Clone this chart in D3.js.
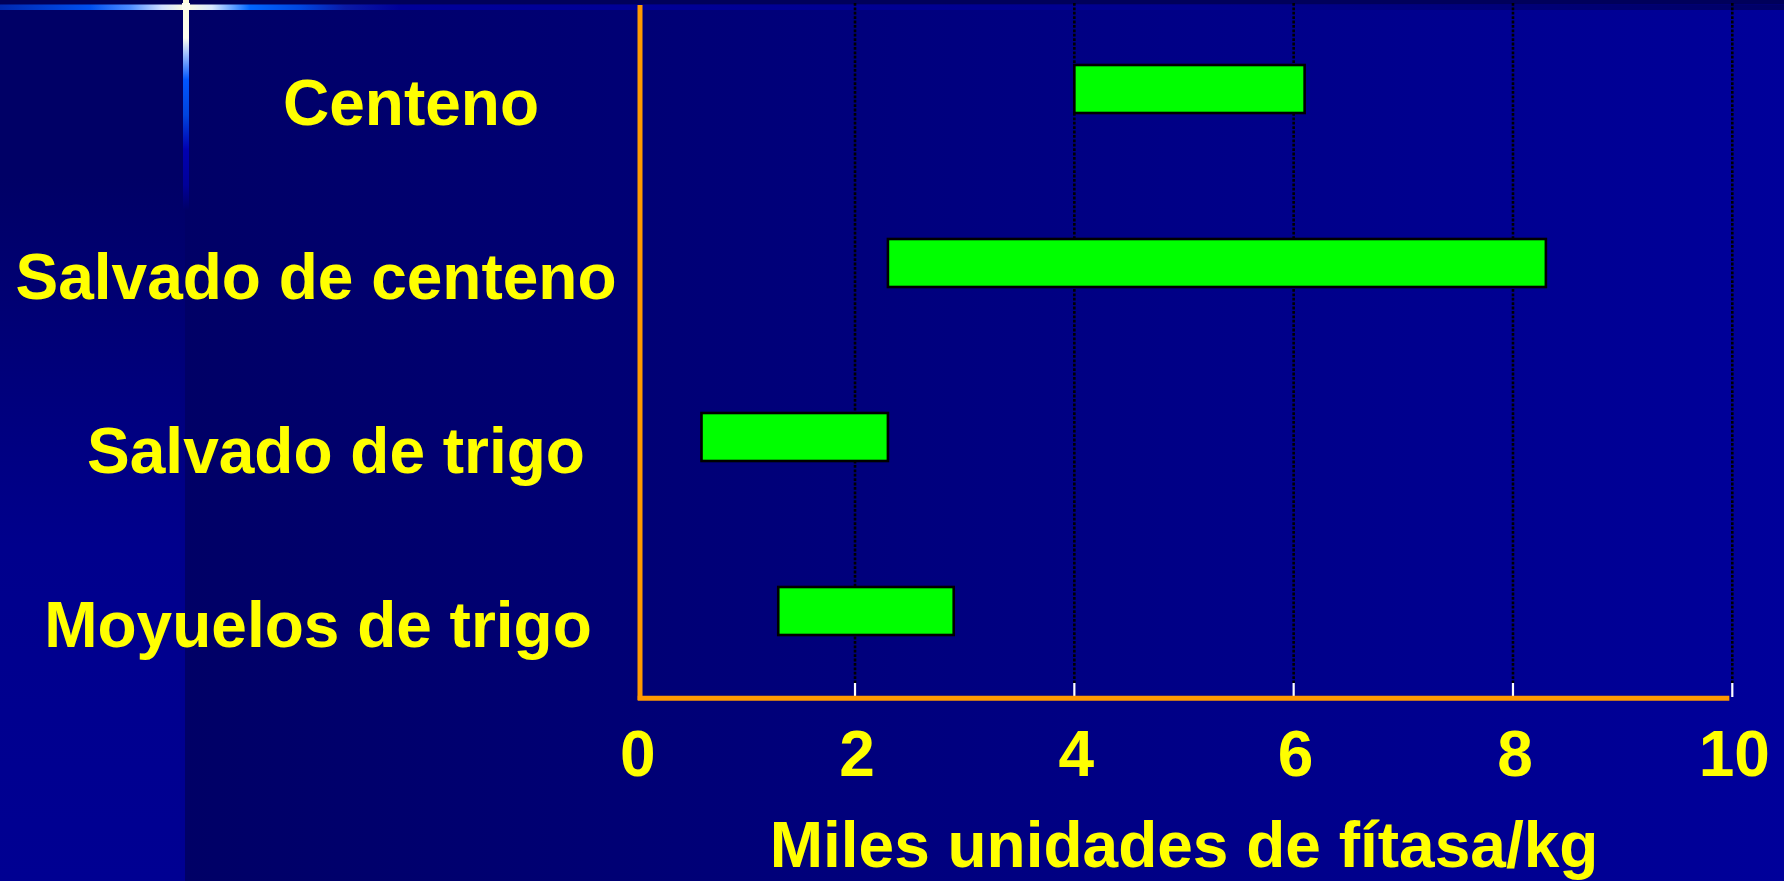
<!DOCTYPE html>
<html>
<head>
<meta charset="utf-8">
<script src="https://cdn.jsdelivr.net/npm/d3@7"></script>
<style>
  html, body { margin: 0; padding: 0; background: #000066; overflow: hidden; }
  svg { display: block; }
</style>
</head>
<body>
<script>
// Phytase activity ranges per ingredient (thousand units / kg)
const categories = ["Centeno", "Salvado de centeno", "Salvado de trigo", "Moyuelos de trigo"];
const rangeLow  = [4.0, 2.3, 0.6, 1.3];
const rangeHigh = [6.1, 8.3, 2.3, 2.9];
const xTicks = [0, 2, 4, 6, 8, 10];
const xTitle = "Miles unidades de fítasa/kg";

const W = 1784, H = 881;
const FONT = "'Liberation Sans', Arial, Helvetica, sans-serif";
const YELLOW = "#FFFF00", ORANGE = "#FF9900", GREEN = "#00FF00";

// plot frame
const plot = { left: 635.7, right: 1732.3, top: 2, bottom: 698 };
const barH = 48, step = (plot.bottom - plot.top) / categories.length;

const x = d3.scaleLinear().domain([0, 10]).range([plot.left, plot.right]);
const y = d3.scaleBand().domain(categories)
  .range([plot.top, plot.bottom])
  .paddingInner(1 - barH / step)
  .paddingOuter((1 - barH / step) / 2);

// horizontal centre of each category caption
const captionCenter = [411, 316, 336, 318];

const svg = d3.select("body").append("svg")
  .attr("width", W).attr("height", H);

const defs = svg.append("defs");

// slide background: horizontal navy-to-blue wash
const bgGrad = defs.append("linearGradient").attr("id", "bg")
  .attr("gradientUnits", "userSpaceOnUse")
  .attr("x1", 185).attr("y1", 0).attr("x2", W).attr("y2", 0);
bgGrad.append("stop").attr("offset", 0).attr("stop-color", "#000066");
bgGrad.append("stop").attr("offset", 1).attr("stop-color", "#00009a");

// left strip: vertical wash
const stripGrad = defs.append("linearGradient").attr("id", "strip")
  .attr("gradientUnits", "userSpaceOnUse")
  .attr("x1", 0).attr("y1", 0).attr("x2", 0).attr("y2", H);
[[0, "#000066"], [0.2, "#000066"], [0.62, "#00008c"], [1, "#000092"]]
  .forEach(([o, c]) => stripGrad.append("stop").attr("offset", o).attr("stop-color", c));

// glint along top edge
const hGlint = defs.append("linearGradient").attr("id", "hglint")
  .attr("gradientUnits", "userSpaceOnUse")
  .attr("x1", 0).attr("y1", 0).attr("x2", W).attr("y2", 0);
[[0, "#0028b0"], [90, "#0050f0"], [130, "#4d8cff"], [162, "#d0e0ff"], [186, "#ffffdd"],
 [212, "#d8e8ff"], [250, "#0066ff"], [300, "#0046e0"], [345, "#0a1aa8"], [400, "#000099"],
 [1200, "#00008e"], [W, "#000066"]]
  .forEach(([p, c]) => hGlint.append("stop").attr("offset", p / W).attr("stop-color", c));

// glint running down from the top
const vGlint = defs.append("linearGradient").attr("id", "vglint")
  .attr("gradientUnits", "userSpaceOnUse")
  .attr("x1", 0).attr("y1", 0).attr("x2", 0).attr("y2", 210);
[[0, "#ffffdd", 1], [38, "#fffff0", 1], [55, "#99bbff", 1], [80, "#0055ff", 1], [115, "#0044dd", 1],
 [150, "#0000b0", 1], [185, "#000099", 1], [210, "#000099", 0]]
  .forEach(([p, c, a]) => vGlint.append("stop").attr("offset", p / 210)
    .attr("stop-color", c).attr("stop-opacity", a));

svg.append("rect").attr("width", W).attr("height", H).attr("fill", "url(#bg)");
svg.append("rect").attr("width", 185).attr("height", H).attr("fill", "url(#strip)");
svg.append("rect").attr("width", W).attr("height", 4.5).attr("fill", "#00005a");
svg.append("rect").attr("y", 4.5).attr("width", W).attr("height", 5.5).attr("fill", "url(#hglint)");
svg.append("rect").attr("x", 183).attr("y", 0).attr("width", 6).attr("height", 210).attr("fill", "url(#vglint)");
svg.append("rect").attr("x", 182).attr("y", 3).attr("width", 8).attr("height", 7).attr("fill", "#ffffee");

// dotted vertical gridlines
svg.append("g").selectAll("line")
  .data(xTicks.filter(d => d > 0))
  .join("line")
  .attr("x1", d => x(d)).attr("x2", d => x(d))
  .attr("y1", 3).attr("y2", 683)
  .attr("stroke", "#000000").attr("stroke-width", 2.6)
  .attr("stroke-dasharray", "2.8,1.6");

// small white tick marks rising from the baseline
svg.append("g").selectAll("line")
  .data(xTicks.filter(d => d > 0))
  .join("line")
  .attr("x1", d => x(d)).attr("x2", d => x(d))
  .attr("y1", 683).attr("y2", 697)
  .attr("stroke", "#ffffff").attr("stroke-width", 2.2);

// floating range bars
svg.append("g").selectAll("rect")
  .data(categories)
  .join("rect")
  .attr("x", (d, i) => x(rangeLow[i]))
  .attr("width", (d, i) => x(rangeHigh[i]) - x(rangeLow[i]))
  .attr("y", d => y(d))
  .attr("height", y.bandwidth())
  .attr("fill", GREEN)
  .attr("stroke", "#000000")
  .attr("stroke-width", 2.6);

// orange axis lines
svg.append("line")
  .attr("x1", x(0) + 4.3).attr("x2", x(0) + 4.3)
  .attr("y1", 5).attr("y2", 700)
  .attr("stroke", ORANGE).attr("stroke-width", 5);
svg.append("line")
  .attr("x1", x(0) + 2).attr("x2", x(10) - 3)
  .attr("y1", 698.3).attr("y2", 698.3)
  .attr("stroke", ORANGE).attr("stroke-width", 5);

// x tick labels
const xAxis = svg.append("g")
  .attr("transform", `translate(0,${plot.bottom})`)
  .call(d3.axisBottom(x).tickValues(xTicks).tickSize(0).tickFormat(d3.format("d")));
xAxis.select(".domain").remove();
xAxis.selectAll("text")
  .attr("dy", null).attr("y", 78).attr("x", 1.5)
  .attr("fill", YELLOW)
  .style("font-family", FONT).style("font-weight", "bold").style("font-size", "64px");

// category captions
svg.append("g").selectAll("text")
  .data(categories)
  .join("text")
  .attr("x", (d, i) => captionCenter[i])
  .attr("y", d => y(d) + y.bandwidth() / 2 + 36)
  .attr("text-anchor", "middle")
  .attr("fill", YELLOW)
  .style("font-family", FONT).style("font-weight", "bold").style("font-size", "64px")
  .text(d => d);

// axis title
svg.append("text")
  .attr("x", (plot.left + plot.right) / 2)
  .attr("y", 867)
  .attr("text-anchor", "middle")
  .attr("fill", YELLOW)
  .style("font-family", FONT).style("font-weight", "bold").style("font-size", "64px")
  .text(xTitle);
</script>
</body>
</html>
